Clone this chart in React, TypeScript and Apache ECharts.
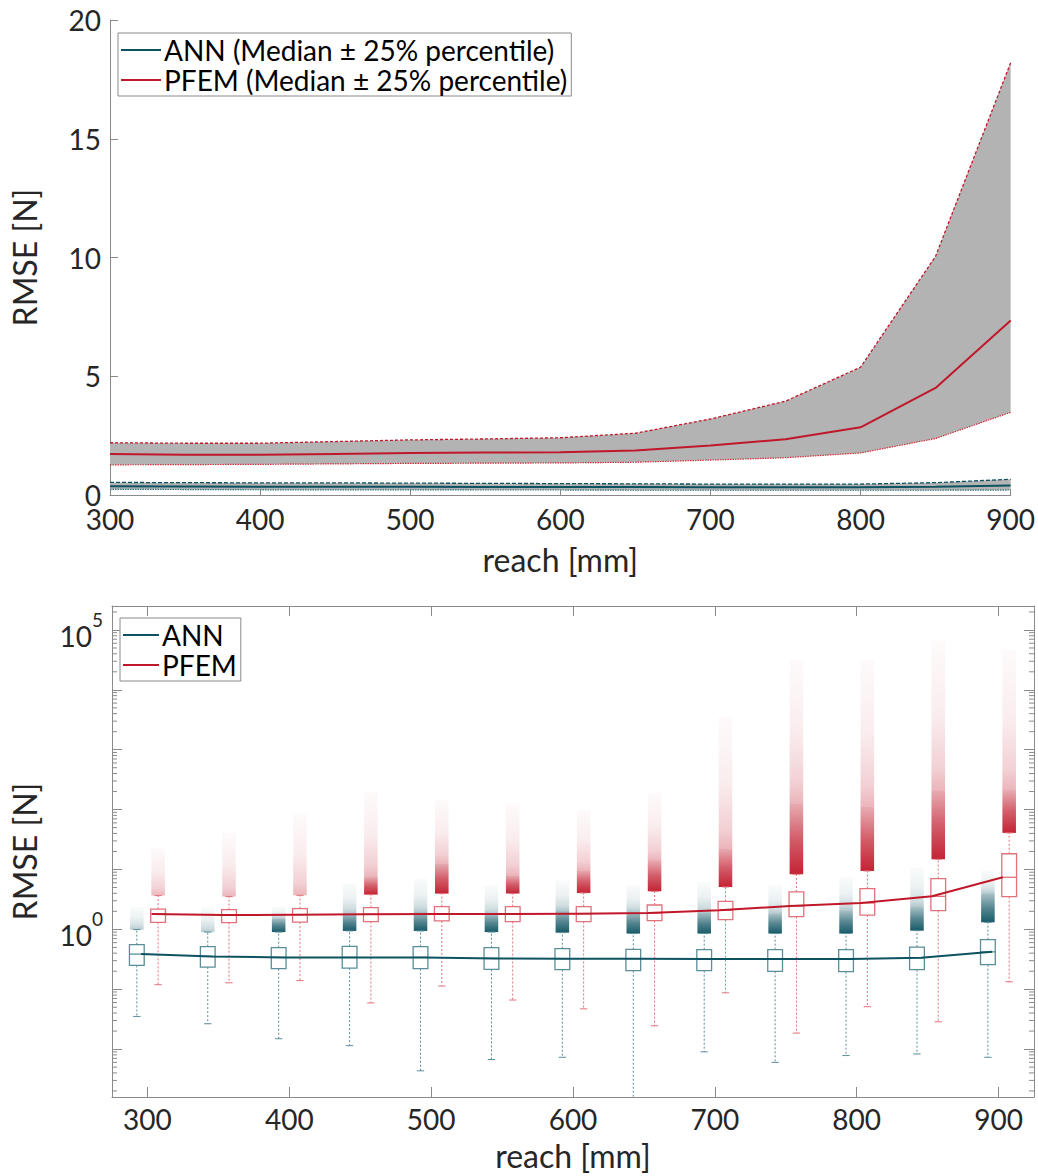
import React, { useEffect, useRef } from 'react';
import * as echarts from 'echarts';

// ---------- data ----------
const reach = [300, 350, 400, 450, 500, 550, 600, 650, 700, 750, 800, 850, 900];

// top chart: median and 25/75% percentiles
const topAnnMedian = [0.37, 0.36, 0.35, 0.35, 0.35, 0.34, 0.34, 0.34, 0.33, 0.33, 0.33, 0.35, 0.40];
const topAnnQ75 = [0.53, 0.52, 0.51, 0.51, 0.5, 0.49, 0.48, 0.47, 0.46, 0.46, 0.46, 0.52, 0.66];
const topAnnQ25 = [0.24, 0.23, 0.22, 0.22, 0.22, 0.21, 0.21, 0.2, 0.2, 0.2, 0.2, 0.2, 0.21];
const topPfemMedian = [1.73, 1.69, 1.69, 1.73, 1.77, 1.79, 1.8, 1.87, 2.08, 2.35, 2.85, 4.51, 7.35];
const topPfemQ75 = [2.2, 2.18, 2.18, 2.25, 2.32, 2.36, 2.41, 2.6, 3.2, 3.95, 5.38, 10.05, 18.2];
const topPfemQ25 = [1.27, 1.28, 1.29, 1.31, 1.33, 1.34, 1.35, 1.38, 1.47, 1.57, 1.77, 2.38, 3.48];

// bottom chart: box statistics
const annLow = [0.0351, 0.0265, 0.0149, 0.0114, 0.00434, 0.0067, 0.0073, 0.0012, 0.009, 0.006, 0.0078, 0.0083, 0.0073];
const annQ25 = [0.25, 0.234, 0.22, 0.225, 0.22, 0.214, 0.212, 0.204, 0.204, 0.199, 0.196, 0.212, 0.257];
const annMed = [0.386, 0.353, 0.34, 0.34, 0.34, 0.327, 0.324, 0.324, 0.32, 0.32, 0.32, 0.336, 0.421];
const annQ75 = [0.555, 0.514, 0.494, 0.52, 0.514, 0.494, 0.476, 0.463, 0.458, 0.458, 0.458, 0.506, 0.673];
const annHigh = [0.99, 0.9, 0.9, 0.94, 0.94, 0.9, 0.88, 0.85, 0.85, 0.85, 0.85, 0.95, 1.31];
const annDenseTop = [0.99, 0.9, 1.51, 1.83, 1.95, 1.83, 2.08, 1.95, 1.92, 1.83, 2.08, 2.36, 3.95];
const annMax = [2.36, 2.36, 2.36, 5.81, 7.05, 5.44, 6.6, 5.44, 6.18, 5.44, 7.5, 10.6, 9.7];

const pfemLow = [0.119, 0.128, 0.139, 0.059, 0.113, 0.066, 0.047, 0.0245, 0.087, 0.0185, 0.051, 0.0286, 0.133];
const pfemQ25 = [1.31, 1.29, 1.32, 1.35, 1.38, 1.35, 1.35, 1.4, 1.45, 1.63, 1.73, 2.05, 3.52];
const pfemMed = [1.8, 1.73, 1.76, 1.78, 1.8, 1.8, 1.83, 1.87, 2.08, 2.45, 2.75, 3.56, 7.4];
const pfemQ75 = [2.18, 2.13, 2.22, 2.31, 2.4, 2.4, 2.4, 2.55, 2.94, 4.21, 4.8, 7.05, 18.3];
const pfemHigh = [3.66, 3.52, 3.7, 3.8, 3.95, 3.95, 4.05, 4.32, 5.1, 8.3, 9.44, 14.8, 40.8];
const pfemDenseTop = [3.66, 3.52, 3.7, 7.5, 12.6, 8.0, 9.7, 14.3, 22.6, 128, 111, 211, 211];
const pfemMax = [23.2, 41.4, 86, 198, 144, 126, 98, 188, 3550, 31600, 31600, 68000, 46000];

// axis ticks
const bottomXTicks = [300, 400, 500, 600, 700, 800, 900];
const logDecades = [-3, -2, -1, 0, 1, 2, 3, 4, 5];
const logMinorMultipliers = [2, 3, 4, 5, 6, 7, 8, 9];
const labelledDecades = [0, 5];

// ---------- style ----------
const FONT = 'Lato';
const TXT = '#262626';
const AX = '#8a8a8a';
const TEAL = '#0d5261';
const RED = '#c0182a';
const TEAL_BOX = '#5a8f99';
const RED_BOX = '#e0727c';
const BAND = '#b3b3b3';
const FS = 28;
const FS_NAME = 32;

const BX_MIN = 275;
const BX_MAX = 925;
const BY_MIN = Math.pow(10, -2.8);
const BY_MAX = Math.pow(10, 5.4);

const ANN_TOP = 'ANN (Median ± 25% percentile)';
const PFEM_TOP = 'PFEM (Median ± 25% percentile)';

function pairs(xs: number[], ys: number[], off = 0) {
  return xs.map((x, i) => [x + off, ys[i]]);
}

function bandRenderer(lo: number[], hi: number[]) {
  return (params: any, api: any) => {
    if (params.dataIndex !== 0) return null;
    const upper = reach.map((r, i) => api.coord([r, hi[i]]));
    const lower = reach.map((r, i) => api.coord([r, lo[i]])).reverse();
    return {
      type: 'polygon',
      shape: { points: upper.concat(lower) },
      style: { fill: BAND, stroke: 'none' },
    };
  };
}

function boxRenderer(offset: number, boxColor: string, rgb: number[]) {
  const rgba = (a: number) => `rgba(${rgb[0]},${rgb[1]},${rgb[2]},${a})`;
  return (params: any, api: any) => {
    const x = api.value(0) + offset;
    const pt = (v: number) => api.coord([x, v]);
    const cx = pt(1)[0];
    const hw = Math.abs(api.coord([x + 5.2, 1])[0] - cx);
    const cw = hw * 0.92;
    const yLo = pt(api.value(1))[1];
    const yQ25 = pt(api.value(2))[1];
    const yMed = pt(api.value(3))[1];
    const yQ75 = pt(api.value(4))[1];
    const yHi = pt(api.value(5))[1];
    const yDense = pt(api.value(6))[1];
    const yMax = pt(api.value(7))[1];
    const children: any[] = [];
    children.push({
      type: 'rect',
      shape: { x: cx - cw, y: yMax, width: 2 * cw, height: Math.max(0, yDense - yMax) },
      style: {
        fill: {
          type: 'linear', x: 0, y: 0, x2: 0, y2: 1,
          colorStops: [
            { offset: 0, color: rgba(0.02) },
            { offset: 0.5, color: rgba(0.08) },
            { offset: 0.85, color: rgba(0.2) },
            { offset: 1, color: rgba(0.32) },
          ],
        },
      },
    });
    if (yHi - yDense > 0.5) {
      children.push({
        type: 'rect',
        shape: { x: cx - cw, y: yDense, width: 2 * cw, height: yHi - yDense },
        style: {
          fill: {
            type: 'linear', x: 0, y: 0, x2: 0, y2: 1,
            colorStops: [
              { offset: 0, color: rgba(0.36) },
              { offset: 0.5, color: rgba(0.7) },
              { offset: 1, color: rgba(0.95) },
            ],
          },
        },
      });
    }
    const dash = { stroke: boxColor, lineWidth: 1, lineDash: [2, 2] };
    const solid = { stroke: boxColor, lineWidth: 1 };
    children.push({ type: 'line', shape: { x1: cx, y1: yQ25, x2: cx, y2: yLo }, style: dash });
    children.push({ type: 'line', shape: { x1: cx, y1: yQ75, x2: cx, y2: yHi }, style: dash });
    children.push({ type: 'line', shape: { x1: cx - hw / 2, y1: yLo, x2: cx + hw / 2, y2: yLo }, style: solid });
    children.push({ type: 'line', shape: { x1: cx - hw / 2, y1: yHi, x2: cx + hw / 2, y2: yHi }, style: solid });
    children.push({
      type: 'rect',
      shape: { x: cx - hw, y: yQ75, width: 2 * hw, height: yQ25 - yQ75 },
      style: { fill: 'none', stroke: boxColor, lineWidth: 1.3 },
    });
    children.push({ type: 'line', shape: { x1: cx - hw, y1: yMed, x2: cx + hw, y2: yMed }, style: { stroke: boxColor, lineWidth: 1.3 } });
    return { type: 'group', children };
  };
}

function minorTickRenderer(params: any, api: any) {
  const v = api.value(1);
  const l = api.coord([BX_MIN, v]);
  const r = api.coord([BX_MAX, v]);
  return {
    type: 'group',
    children: [
      { type: 'line', shape: { x1: l[0], y1: l[1], x2: l[0] + 5, y2: l[1] }, style: { stroke: AX, lineWidth: 1 } },
      { type: 'line', shape: { x1: r[0] - 5, y1: r[1], x2: r[0], y2: r[1] }, style: { stroke: AX, lineWidth: 1 } },
    ],
  };
}

const minorTickValues: number[] = [];
logDecades.forEach((d) =>
  logMinorMultipliers.forEach((m) => {
    const v = m * Math.pow(10, d);
    if (v > BY_MIN && v < BY_MAX) minorTickValues.push(v);
  })
);

function logLabel(value: number) {
  const l = Math.log10(value);
  const e = Math.round(l);
  if (Math.abs(l - e) > 1e-6) return '';
  if (labelledDecades.indexOf(e) < 0) return '';
  return `{b|10}{s|${e}}`;
}

export default function App() {
  const ref = useRef<HTMLDivElement>(null);
  useEffect(() => {
    if (!ref.current) return;
    const chart = echarts.init(ref.current, undefined, { renderer: 'svg' });
    const textBase = { fontFamily: FONT, fontSize: FS, color: TXT };
    const nameBase = { fontFamily: FONT, fontSize: FS_NAME, color: TXT };
    const legendBase = {
      orient: 'vertical',
      icon: 'rect',
      itemHeight: 2,
      itemGap: 0,
      borderColor: AX, borderWidth: 1, backgroundColor: '#ffffff',
      textStyle: { fontFamily: FONT, fontSize: FS, color: '#000000', lineHeight: 30, padding: [0, 0, 0, -2] },
      selectedMode: false,
    };
    const option: any = {
      animation: false,
      backgroundColor: '#ffffff',
      textStyle: { fontFamily: FONT },
      grid: [
        { left: 107, top: 20, width: 905, height: 475 },
        { left: 109, top: 606, width: 925, height: 491 },
      ],
      xAxis: [
        {
          gridIndex: 0, type: 'value', min: 300, max: 900, interval: 100,
          name: 'reach [mm]', nameLocation: 'middle', nameGap: 48,
          nameTextStyle: nameBase,
          axisLine: { show: true, lineStyle: { color: AX, width: 1 } },
          axisTick: { show: true, inside: true, length: 6, lineStyle: { color: AX } },
          axisLabel: { ...textBase, margin: 10 },
          splitLine: { show: false },
        },
        {
          gridIndex: 1, type: 'value', min: BX_MIN, max: BX_MAX, position: 'bottom',
          name: 'reach [mm]', nameLocation: 'middle', nameGap: 42,
          nameTextStyle: nameBase,
          axisLine: { show: true, onZero: false, lineStyle: { color: AX, width: 1 } },
          axisTick: { show: true, inside: true, length: 10, lineStyle: { color: AX }, customValues: bottomXTicks },
          axisLabel: { ...textBase, margin: 8, customValues: bottomXTicks },
          splitLine: { show: false },
        },
        {
          gridIndex: 1, type: 'value', min: BX_MIN, max: BX_MAX, position: 'top',
          axisLine: { show: true, onZero: false, lineStyle: { color: AX, width: 1 } },
          axisTick: { show: true, inside: true, length: 10, lineStyle: { color: AX }, customValues: bottomXTicks },
          axisLabel: { show: false },
          splitLine: { show: false },
        },
      ],
      yAxis: [
        {
          gridIndex: 0, type: 'value', min: 0, max: 20, interval: 5,
          name: 'RMSE [N]', nameLocation: 'middle', nameGap: 70,
          nameTextStyle: nameBase,
          axisLine: { show: true, lineStyle: { color: AX, width: 1 } },
          axisTick: { show: true, inside: true, length: 8, lineStyle: { color: AX } },
          axisLabel: { ...textBase, margin: 9 },
          splitLine: { show: false },
        },
        {
          gridIndex: 1, type: 'log', logBase: 10, min: BY_MIN, max: BY_MAX, position: 'left',
          name: 'RMSE [N]', nameLocation: 'middle', nameGap: 72,
          nameTextStyle: nameBase,
          axisLine: { show: true, onZero: false, lineStyle: { color: AX, width: 1 } },
          axisTick: { show: true, inside: true, length: 10, lineStyle: { color: AX } },
          axisLabel: {
            margin: 9,
            formatter: logLabel,
            showMinLabel: false,
            showMaxLabel: false,
            rich: {
              b: { fontFamily: FONT, fontSize: FS, color: TXT, lineHeight: 40, verticalAlign: 'bottom' },
              s: { fontFamily: FONT, fontSize: 19, color: TXT, lineHeight: 18, verticalAlign: 'top' },
            },
          },
          splitLine: { show: false },
        },
        {
          gridIndex: 1, type: 'log', logBase: 10, min: BY_MIN, max: BY_MAX, position: 'right',
          axisLine: { show: true, onZero: false, lineStyle: { color: AX, width: 1 } },
          axisTick: { show: true, inside: true, length: 10, lineStyle: { color: AX } },
          axisLabel: { show: false },
          splitLine: { show: false },
        },
      ],
      legend: [
        {
          ...legendBase,
          left: 118, top: 33,
          data: [ANN_TOP, PFEM_TOP],
          itemWidth: 40,
          padding: [2, 4, 1, 3],
        },
        {
          ...legendBase,
          left: 120, top: 618,
          data: ['ANN', 'PFEM'],
          itemWidth: 36,
          padding: [2, 4, 1, 3],
        },
      ],
      series: [
        // ---- top chart ----
        {
          type: 'custom', name: 'annBand', xAxisIndex: 0, yAxisIndex: 0, silent: true, z: 1,
          data: reach.map((r, i) => [r, topAnnQ25[i], topAnnQ75[i]]),
          renderItem: bandRenderer(topAnnQ25, topAnnQ75),
        },
        {
          type: 'custom', name: 'pfemBand', xAxisIndex: 0, yAxisIndex: 0, silent: true, z: 1,
          data: reach.map((r, i) => [r, topPfemQ25[i], topPfemQ75[i]]),
          renderItem: bandRenderer(topPfemQ25, topPfemQ75),
        },
        {
          type: 'line', name: 'annQ75', xAxisIndex: 0, yAxisIndex: 0, symbol: 'none', z: 3,
          data: pairs(reach, topAnnQ75), lineStyle: { color: TEAL, width: 1.3, type: [4, 2] },
        },
        {
          type: 'line', name: 'annQ25', xAxisIndex: 0, yAxisIndex: 0, symbol: 'none', z: 3,
          data: pairs(reach, topAnnQ25), lineStyle: { color: '#2f7480', width: 1.2, type: [1.5, 1] },
        },
        {
          type: 'line', name: ANN_TOP, xAxisIndex: 0, yAxisIndex: 0, symbol: 'none', z: 4,
          data: pairs(reach, topAnnMedian), lineStyle: { color: TEAL, width: 2 }, itemStyle: { color: TEAL },
        },
        {
          type: 'line', name: 'pfemQ75', xAxisIndex: 0, yAxisIndex: 0, symbol: 'none', z: 3,
          data: pairs(reach, topPfemQ75), lineStyle: { color: RED, width: 1.3, type: [3, 2] },
        },
        {
          type: 'line', name: 'pfemQ25', xAxisIndex: 0, yAxisIndex: 0, symbol: 'none', z: 3,
          data: pairs(reach, topPfemQ25), lineStyle: { color: '#d0303f', width: 1.2, type: [1.5, 1] },
        },
        {
          type: 'line', name: PFEM_TOP, xAxisIndex: 0, yAxisIndex: 0, symbol: 'none', z: 4,
          data: pairs(reach, topPfemMedian), lineStyle: { color: RED, width: 2 }, itemStyle: { color: RED },
        },
        // ---- bottom chart ----
        {
          type: 'custom', name: 'annBoxes', xAxisIndex: 1, yAxisIndex: 1, silent: true, clip: true, z: 2,
          encode: { x: 0, y: [1, 2, 3, 4, 5, 6, 7] },
          data: reach.map((r, i) => [r, annLow[i], annQ25[i], annMed[i], annQ75[i], annHigh[i], annDenseTop[i], annMax[i]]),
          renderItem: boxRenderer(-7.5, TEAL_BOX, [13, 82, 97]),
        },
        {
          type: 'custom', name: 'pfemBoxes', xAxisIndex: 1, yAxisIndex: 1, silent: true, clip: true, z: 2,
          encode: { x: 0, y: [1, 2, 3, 4, 5, 6, 7] },
          data: reach.map((r, i) => [r, pfemLow[i], pfemQ25[i], pfemMed[i], pfemQ75[i], pfemHigh[i], pfemDenseTop[i], pfemMax[i]]),
          renderItem: boxRenderer(7.5, RED_BOX, [192, 24, 42]),
        },
        {
          type: 'line', name: 'ANN', xAxisIndex: 1, yAxisIndex: 1, symbol: 'none', z: 4,
          data: pairs(reach, annMed, -4.5), lineStyle: { color: TEAL, width: 2 }, itemStyle: { color: TEAL },
        },
        {
          type: 'line', name: 'PFEM', xAxisIndex: 1, yAxisIndex: 1, symbol: 'none', z: 4,
          data: pairs(reach, pfemMed, 3), lineStyle: { color: RED, width: 2 }, itemStyle: { color: RED },
        },
        {
          type: 'custom', name: 'minorTicks', xAxisIndex: 1, yAxisIndex: 1, silent: true, z: 5,
          data: minorTickValues.map((v) => [BX_MIN, v]),
          renderItem: minorTickRenderer,
        },
      ],
    };
    chart.setOption(option);
    return () => chart.dispose();
  }, []);
  return <div ref={ref} style={{ position: 'absolute', left: 0, top: 0, width: 1038, height: 1176 }} />;
}
